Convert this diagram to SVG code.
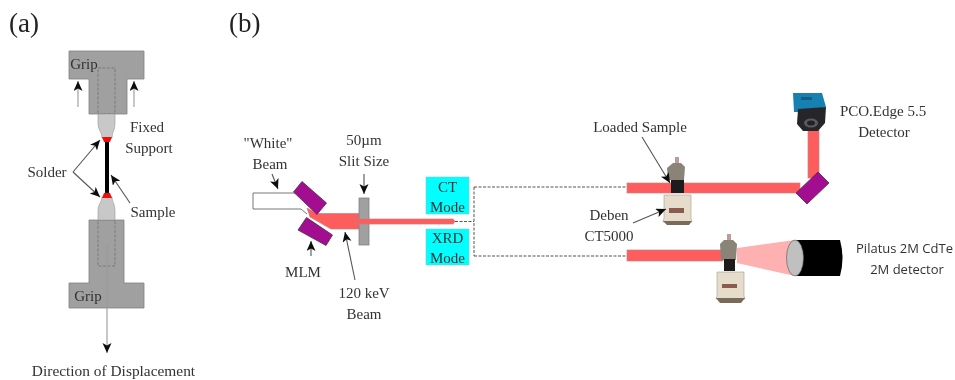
<svg xmlns="http://www.w3.org/2000/svg" width="955" height="380" viewBox="0 0 955 380">
<style>
text{font-family:"Liberation Serif","Times New Roman",serif;font-size:15px;fill:#333;text-anchor:middle}
.big{font-size:27px;text-anchor:start;fill:#222}
.sans{font-family:"Open Sans","Liberation Sans",sans-serif;font-size:13px}
.grip{fill:#a0a0a0;stroke:#808080;stroke-width:.8}
.neck{fill:#c8c8c8;stroke:#999;stroke-width:.6}
.dash{fill:none;stroke:#777;stroke-width:.9;stroke-dasharray:3 1.5}
.sdash{fill:none;stroke:#555;stroke-width:1;stroke-dasharray:3 1.5}
.ln{fill:none;stroke:#555;stroke-width:1.1;marker-end:url(#a)}
.lg{fill:none;stroke:#999;stroke-width:1.1;marker-end:url(#a)}
.beam{fill:#fd5d5d;stroke:#c98080;stroke-width:.7}
.mir{fill:#a3118f;stroke:#4a2a4a;stroke-width:.8}
.cyan{fill:#00ffff;stroke:#88c8c8;stroke-width:.6}
.beige{fill:#e6dccb;stroke:#a89c8a;stroke-width:.6}
.ring{fill:#7a6a58}
.rig{fill:#8a8478}
.pin{fill:#c09a98}
</style>
<defs>
<marker id="a" markerWidth="11" markerHeight="10" refX="10" refY="4.500" orient="auto" markerUnits="userSpaceOnUse"><path d="M0 0L10 4.500L0 9L2.500 4.500Z" fill="#111"/></marker>
<filter id="b" filterUnits="userSpaceOnUse" x="0" y="0" width="955" height="380"><feGaussianBlur stdDeviation="0.55"/></filter>
</defs>
<rect width="955" height="380" fill="#fff"/>
<g filter="url(#b)">
<g id="panel-a-label"><text class="big" x="9" y="32">(a)</text></g>
<g id="panel-b-label"><text class="big" x="229" y="32">(b)</text></g>

<g id="top-grip">
<path class="grip" d="M69 51H144V79H127V114H89V79H69Z"/>
<rect class="dash" x="98" y="68" width="17" height="46"/>
<text x="84" y="69">Grip</text>
</g>
<g id="bottom-grip">
<path class="grip" d="M89 220H124V283H144V308H69V283H89Z"/>
<rect class="dash" x="98" y="220" width="17" height="46"/>
<text x="88" y="301">Grip</text>
</g>
<g id="specimen">
<path class="neck" d="M98 114H115V124C115 130 112 132 112 138H102C102 132 98 130 98 124Z"/>
<path class="neck" d="M102 197H112C112 202 115 204 115 210V220H98V210C98 204 102 202 102 197Z"/>
<rect x="105" y="140" width="4" height="55" fill="#000"/>
<path d="M102 137H112L110 142H104Z" fill="#f01010"/>
<path d="M104 193H110L112 198H102Z" fill="#f01010"/>
</g>
<g id="labels-a">
<text x="147" y="132">Fixed</text>
<text x="149" y="153">Support</text>
<text x="47" y="177">Solder</text>
<text x="153" y="217">Sample</text>
<text x="113.500" y="376" style="font-size:15.400px">Direction of Displacement</text>
</g>

<g id="white-beam"><path d="M297 193H253V209H301L307 214" fill="#fff" stroke="#777" stroke-width="1"/></g>
<g id="beam-optics">
<path class="beam" d="M307 208L317 213.500H359V229H331L310 217Z"/>
<rect class="grip" x="359" y="198" width="10" height="47"/>
<path class="beam" d="M355 219H453L455 221.500L453 224H355Z"/>
</g>
<g id="mlm-top"><path class="mir" d="M293.500 192L302 181.500L326.500 203L317 214.500Z"/></g>
<g id="mlm-bottom"><path class="mir" d="M298 230L306.500 217.500L332.500 235L326 245.500Z"/></g>
<g id="ct-mode"><rect class="cyan" x="426" y="177" width="43" height="37"/><text x="447.500" y="192">CT</text><text x="447.500" y="212">Mode</text></g>
<g id="xrd-mode"><rect class="cyan" x="426" y="229" width="43" height="36"/><text x="447.500" y="243">XRD</text><text x="447.500" y="263">Mode</text></g>
<g id="labels-b">
<text x="268" y="148">"White"</text>
<text x="270" y="169">Beam</text>
<text x="364" y="145">50µm</text>
<text x="364" y="166">Slit Size</text>
<text x="303" y="277">MLM</text>
<text x="364" y="298">120 keV</text>
<text x="364" y="319">Beam</text>
<text x="640" y="132">Loaded Sample</text>
<text x="609" y="220">Deben</text>
<text x="609" y="241">CT5000</text>
<text x="883" y="116">PCO.Edge 5.5</text>
<text x="884" y="137">Detector</text>
<text class="sans" x="904.500" y="253">Pilatus 2M CdTe</text>
<text class="sans" x="907" y="274">2M detector</text>
</g>

<g id="ct-line">
<rect class="beam" x="627" y="183" width="173" height="10"/>
<rect class="beam" x="808" y="130" width="11" height="48"/>
</g>
<g id="detector-mirror"><path class="mir" d="M796 193L818 172L829 183L807 204Z"/></g>
<g id="pco-detector">
<path d="M793 93H822L826 107L800 112L794 112Z" fill="#1580b0"/>
<path d="M801 97H812V100H801Z" fill="#0d5f85"/>
<path d="M798 109L826 107L825 123L818 131H803L797 124Z" fill="#26262c"/>
<ellipse cx="811" cy="123" rx="7" ry="4.500" fill="#5a5a5e"/>
<ellipse cx="811" cy="123" rx="4" ry="2.500" fill="#222"/>
</g>
<g id="stage-ct">
<rect class="pin" x="675" y="157" width="4" height="7"/>
<path class="rig" d="M673 163H681L685 167L684 180H668L667 168Z"/>
<path d="M671 180H684V193H671Z" fill="#1a1a1a"/>
<path class="beige" d="M664 195H691V218L692 222H663L664 218Z"/>
<path class="ring" d="M663 221H692L689 225H667Z"/>
<rect x="669" y="208" width="15" height="5" fill="#8c5a50"/>
</g>
<g id="xrd-line">
<rect class="beam" x="627" y="250" width="96" height="11"/>
<path d="M737 248L795 240V276L737 263Z" fill="#ffb0b0"/>
</g>
<g id="stage-xrd">
<rect class="pin" x="727" y="234" width="4" height="7"/>
<path class="rig" d="M724 240H733L737 244L736 260H721L720 244Z"/>
<rect x="724" y="259" width="11" height="12" fill="#1a1a1a"/>
<path class="beige" d="M717 272H744V296L745 299H716L717 296Z"/>
<path class="ring" d="M716 298H745L741 303H720Z"/>
<rect x="722" y="284" width="15" height="4" fill="#8c5a50"/>
</g>
<g id="pilatus-detector">
<path d="M795 240H840Q845 258 840 276H795Z" fill="#000"/>
<ellipse cx="795" cy="258" rx="8.500" ry="18" fill="#c0c0c0" stroke="#555" stroke-width=".6"/>
</g>

<g id="connectors">
<path class="lg" d="M78 107V81"/>
<path class="lg" d="M134 107V81"/>
<path class="lg" d="M107 245V353"/>
<path class="ln" d="M73 172L100 140"/>
<path class="ln" d="M73 172L100 197"/>
<path class="ln" d="M130 203L111 175"/>
<path class="ln" d="M272 174L278 189"/>
<path class="ln" d="M364 174V194"/>
<path class="ln" d="M311 256V241"/>
<path class="ln" d="M355 280L345 232"/>
<path class="ln" d="M642 137L670 183"/>
<path class="ln" d="M633 223L666 209"/>
<path class="sdash" d="M455 221.500H474M474 187V256M474 187H627M474 256H627"/>
</g>
</g>
</svg>
